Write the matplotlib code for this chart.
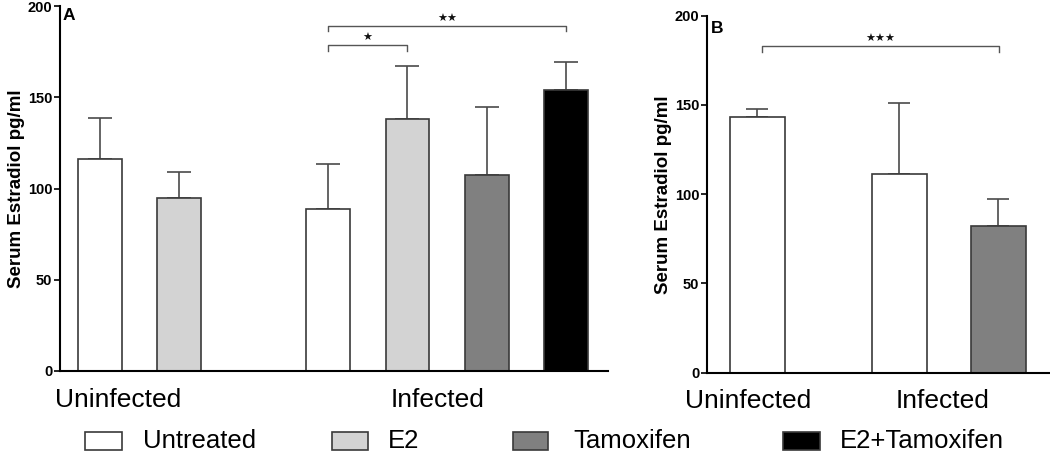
import matplotlib
matplotlib.use("Agg")
import matplotlib.pyplot as plt
from matplotlib.patches import Rectangle

plt.rcParams['font.family'] = ['Liberation Sans', 'DejaVu Sans']

# ---- Data ----
treatments = ["Untreated", "E2", "Tamoxifen", "E2+Tamoxifen"]
colors = {"Untreated": "#ffffff", "E2": "#d3d3d3", "Tamoxifen": "#808080", "E2+Tamoxifen": "#000000"}

# Panel A
a_groups = ["Uninfected", "Uninfected", "Infected", "Infected", "Infected", "Infected"]
a_treat = ["Untreated", "E2", "Untreated", "E2", "Tamoxifen", "E2+Tamoxifen"]
a_means = [116.3, 94.6, 88.6, 137.9, 107.2, 154.0]
a_err = [22.1, 14.6, 25.0, 29.4, 37.3, 15.3]
a_pos = [0, 1, 2.875, 3.875, 4.875, 5.875]
a_group_labels = ["Uninfected", "Infected"]
a_group_pos = [0.233, 4.25]

# Panel B
b_treat = ["Untreated", "Untreated", "Tamoxifen"]
b_means = [143.2, 111.5, 82.4]
b_err = [4.5, 39.8, 14.9]
b_pos = [0, 1.434, 2.434]
b_group_labels = ["Uninfected", "Infected"]
b_group_pos = [-0.096, 1.874]

W, H = 1050, 451
fig = plt.figure(figsize=(W / 100, H / 100), dpi=100)

def px_axes(l, r, top, bot):
    return fig.add_axes([l / W, (H - bot) / H, (r - l) / W, (bot - top) / H])

axA = px_axes(60, 608, 6, 371)
axB = px_axes(707, 1050, 15.7, 372.7)

edge = "#3a3a3a"
ecol = "#4a4a4a"

def style(ax):
    for s in ["top", "right"]:
        ax.spines[s].set_visible(False)
    for s in ["left", "bottom"]:
        ax.spines[s].set_linewidth(1.5)
        ax.spines[s].set_color("black")
    ax.set_ylim(0, 200)
    ax.set_yticks([0, 50, 100, 150, 200])
    ax.tick_params(axis="y", length=4.5, width=1.2, labelsize=10.5, pad=1)
    for t in ax.get_yticklabels():
        t.set_fontweight("bold")
    ax.tick_params(axis="x", length=0, labelsize=19, pad=12)
    ax.set_ylabel("Serum Estradiol pg/ml", fontsize=13.5, fontweight="bold", labelpad=2)

# Panel A bars
axA.bar(a_pos, a_means, width=0.55, color=[colors[t] for t in a_treat],
        edgecolor=edge, linewidth=1.2, zorder=2)
axA.errorbar(a_pos, a_means, yerr=[[0] * len(a_err), a_err], fmt="none",
             ecolor=ecol, elinewidth=1.2, capsize=8.3, capthick=1.2, zorder=1)
axA.set_xlim(-0.5, 6.4)
axA.set_xticks(a_group_pos)
axA.set_xticklabels(a_group_labels)
style(axA)
axA.text(0.005, 0.995, "A", transform=axA.transAxes, fontsize=12.5, fontweight="bold",
         ha="left", va="top")

# Panel B bars
axB.bar(b_pos, b_means, width=0.556, color=[colors[t] for t in b_treat],
        edgecolor=edge, linewidth=1.2, zorder=2)
axB.errorbar(b_pos, b_means, yerr=[[0] * len(b_err), b_err], fmt="none",
             ecolor=ecol, elinewidth=1.2, capsize=7.6, capthick=1.2, zorder=1)
axB.set_xlim(-0.51, 2.955)
axB.set_xticks(b_group_pos)
axB.set_xticklabels(b_group_labels)
style(axB)
axB.text(0.01, 0.985, "B", transform=axB.transAxes, fontsize=12.5, fontweight="bold",
         ha="left", va="top")

def bracket(ax, x1, x2, y, h, label):
    ax.plot([x1, x1, x2, x2], [y - h, y, y, y - h], color="#555555", lw=1.0, clip_on=False)
    ax.text((x1 + x2) / 2, y + 1.0, label, ha="center", va="bottom", fontsize=8,
            color="#111111", family="DejaVu Sans")

bracket(axA, 2.875, 3.875, 178.6, 3.0, "★")
bracket(axA, 2.875, 5.875, 189.2, 3.0, "★★")
bracket(axB, 0.05, 2.44, 182.9, 3.0, "★★★")

# Legend
leg = [("Untreated", 85, 122, 143), ("E2", 332, 368, 388),
       ("Tamoxifen", 513, 548, 573), ("E2+Tamoxifen", 783, 820, 840)]
for name, x0, x1, tx in leg:
    fig.add_artist(Rectangle((x0 / W, (H - 450) / H), (x1 - x0) / W, 18 / H,
                             transform=fig.transFigure, facecolor=colors[name],
                             edgecolor=edge, linewidth=1.2))
    fig.text(tx / W, (H - 441) / H, name, fontsize=18.5, ha="left", va="center")

fig.savefig("out.png", dpi=100)
